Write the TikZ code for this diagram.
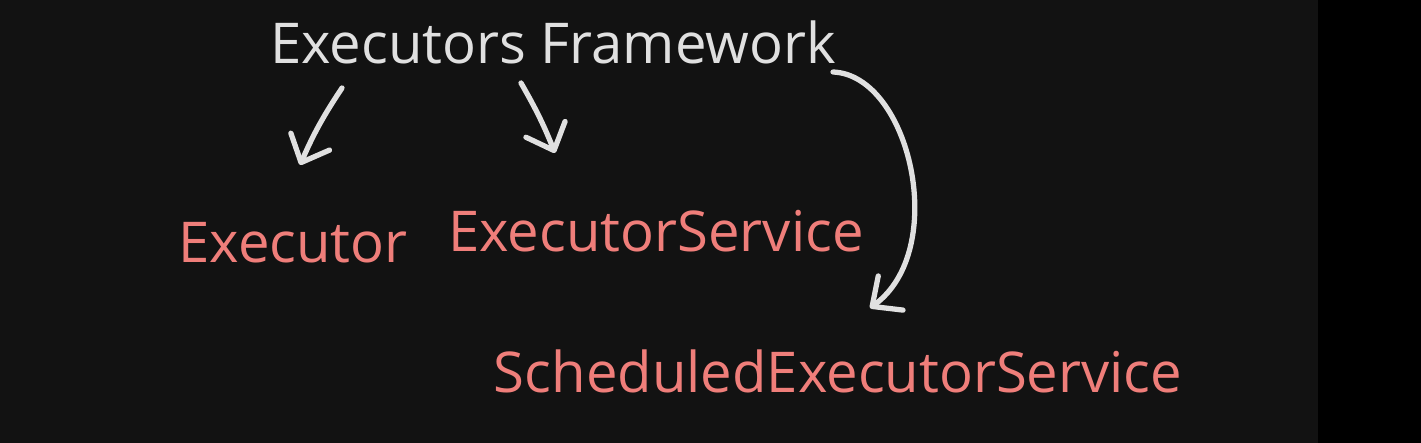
\documentclass[tikz,border=0pt]{standalone}
\usepackage{fontspec}
\setmainfont{Open Sans}
\usepackage{tikz}
\usetikzlibrary{calc,arrows.meta,positioning}
\definecolor{boardBg}{RGB}{18,18,18}
\definecolor{boardEdge}{RGB}{0,0,0}
\definecolor{chalkWhite}{RGB}{224,224,224}
\definecolor{chalkRed}{RGB}{239,126,122}

\tikzset{
  hand/.style={inner sep=0pt, font=\fontsize{16}{19}\selectfont},
  arr/.style={chalkWhite, line width=1.5pt, line cap=round,
    -{Straight Barb[length=6.5pt,width=12pt,round]}}
}

\begin{document}
\begin{tikzpicture}[scale=1]
\fill[boardBg] (0,0) rectangle (13.18,-4.43);
\fill[boardEdge] (13.18,0) rectangle (14.21,-4.43);
\useasboundingbox (0,0) rectangle (14.21,-4.43);

% texts
\node[hand, text=chalkWhite] (title) at (5.53,-0.42) {Executors Framework};
\node[hand, text=chalkRed] (exec) at (2.93,-2.43) {Executor};
\node[hand, text=chalkRed] (execsvc) at (6.56,-2.31) {ExecutorService};
\node[hand, text=chalkRed] (sched) at (8.38,-3.71) {ScheduledExecutorService};

% arrows
\draw[arr] ([shift={(-2.11,-0.46)}]title.center) to[bend right=5] ([shift={(0.07,0.78)}]exec.center);
\draw[arr] ([shift={(-0.32,-0.41)}]title.center) to[bend left=4] ([shift={(-1.01,0.78)}]execsvc.center);
\draw[arr] ([shift={(2.80,-0.30)}]title.center) .. controls (9.1,-0.75) and (9.5,-2.5) .. ([shift={(0.32,0.63)}]sched.center);
\end{tikzpicture}
\end{document}
